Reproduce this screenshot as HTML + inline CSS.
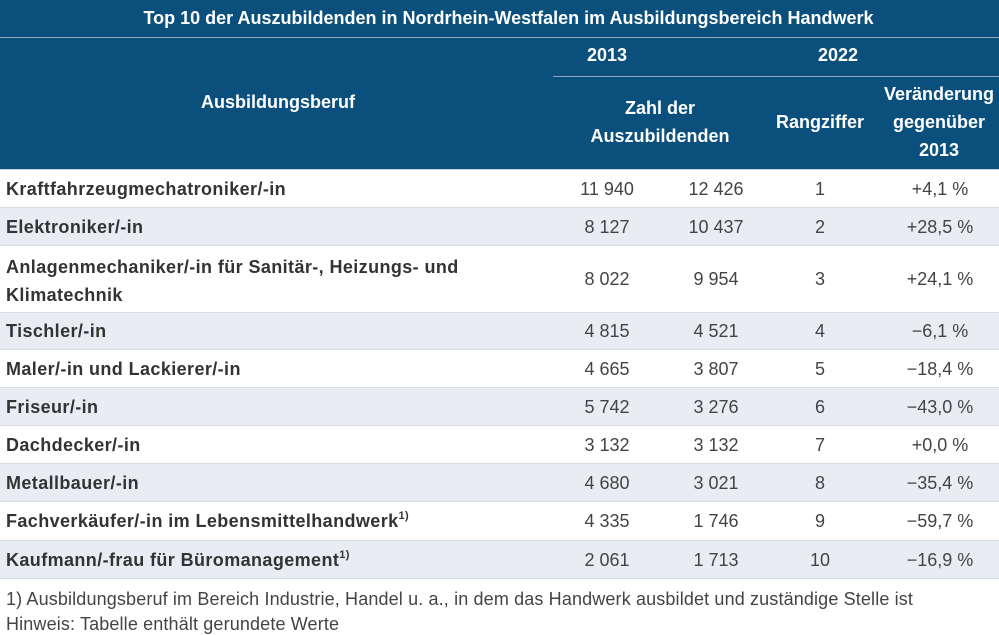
<!DOCTYPE html>
<html><head><meta charset="utf-8"><style>
*{margin:0;padding:0;box-sizing:border-box}
body{width:999px;height:634px;background:#fff;font-family:"Liberation Sans",sans-serif;color:#333;position:relative;overflow:hidden}
.a{position:absolute}
.hd{background:#0b4f7c;color:#fff;font-weight:bold}
.c{text-align:center}
.row{position:absolute;left:0;width:999px;border-bottom:1px solid #d7dce3}
.g{background:#e9edf3}
.n{position:absolute;left:6px;font-weight:bold;font-size:18px;line-height:22px;color:#333;white-space:nowrap;letter-spacing:0.4px}
.v{position:absolute;width:120px;text-align:center;font-size:18px;color:#444;margin-left:-60px;line-height:22px}
sup{font-size:11px;line-height:0;vertical-align:8px}
</style></head><body>
<div class="a hd" style="left:0;top:0;width:999px;height:37px;font-size:18px;line-height:36px;text-align:center;padding-left:18px;white-space:nowrap">Top 10 der Auszubildenden in Nordrhein-Westfalen im Ausbildungsbereich Handwerk</div>
<div class="a" style="left:0;top:37px;width:999px;height:1px;background:#8fa9c0"></div>
<div class="a hd" style="left:0;top:38px;width:999px;height:131px"></div>
<div class="a" style="left:553px;top:76px;width:446px;height:1px;background:#8fa9c0"></div>
<div class="a hd c" style="left:128px;top:91px;width:300px;font-size:18px;line-height:22px">Ausbildungsberuf</div>
<div class="a hd c" style="left:547px;top:44px;width:120px;font-size:18px;line-height:22px">2013</div>
<div class="a hd c" style="left:778px;top:44px;width:120px;font-size:18px;line-height:22px">2022</div>
<div class="a hd c" style="left:560px;top:94px;width:200px;font-size:18px;line-height:28px">Zahl der<br>Auszubildenden</div>
<div class="a hd c" style="left:760px;top:111px;width:120px;font-size:18px;line-height:22px">Rangziffer</div>
<div class="a hd c" style="left:872px;top:80px;width:134px;font-size:18px;line-height:28px;white-space:nowrap">Veränderung<br>gegenüber<br>2013</div>
<div class="a" style="left:0;top:169px;width:999px;height:1px;background:#c9d3de"></div>

<div class="row" style="top:170px;height:38px"><div class="n" style="top:8px">Kraftfahrzeugmechatroniker/-in</div><div class="v" style="left:607px;top:8px">11 940</div><div class="v" style="left:716px;top:8px">12 426</div><div class="v" style="left:820px;top:8px">1</div><div class="v" style="left:940px;top:8px">+4,1 %</div></div>
<div class="row g" style="top:208px;height:38px"><div class="n" style="top:8px">Elektroniker/-in</div><div class="v" style="left:607px;top:8px">8 127</div><div class="v" style="left:716px;top:8px">10 437</div><div class="v" style="left:820px;top:8px">2</div><div class="v" style="left:940px;top:8px">+28,5 %</div></div>
<div class="row" style="top:246px;height:67px"><div class="n" style="top:7px;line-height:28px">Anlagenmechaniker/-in für Sanitär-, Heizungs- und<br>Klimatechnik</div><div class="v" style="left:607px;top:22px">8 022</div><div class="v" style="left:716px;top:22px">9 954</div><div class="v" style="left:820px;top:22px">3</div><div class="v" style="left:940px;top:22px">+24,1 %</div></div>
<div class="row g" style="top:313px;height:37px"><div class="n" style="top:7px">Tischler/-in</div><div class="v" style="left:607px;top:7px">4 815</div><div class="v" style="left:716px;top:7px">4 521</div><div class="v" style="left:820px;top:7px">4</div><div class="v" style="left:940px;top:7px">−6,1 %</div></div>
<div class="row" style="top:350px;height:38px"><div class="n" style="top:8px">Maler/-in und Lackierer/-in</div><div class="v" style="left:607px;top:8px">4 665</div><div class="v" style="left:716px;top:8px">3 807</div><div class="v" style="left:820px;top:8px">5</div><div class="v" style="left:940px;top:8px">−18,4 %</div></div>
<div class="row g" style="top:388px;height:38px"><div class="n" style="top:8px">Friseur/-in</div><div class="v" style="left:607px;top:8px">5 742</div><div class="v" style="left:716px;top:8px">3 276</div><div class="v" style="left:820px;top:8px">6</div><div class="v" style="left:940px;top:8px">−43,0 %</div></div>
<div class="row" style="top:426px;height:38px"><div class="n" style="top:8px">Dachdecker/-in</div><div class="v" style="left:607px;top:8px">3 132</div><div class="v" style="left:716px;top:8px">3 132</div><div class="v" style="left:820px;top:8px">7</div><div class="v" style="left:940px;top:8px">+0,0 %</div></div>
<div class="row g" style="top:464px;height:38px"><div class="n" style="top:8px">Metallbauer/-in</div><div class="v" style="left:607px;top:8px">4 680</div><div class="v" style="left:716px;top:8px">3 021</div><div class="v" style="left:820px;top:8px">8</div><div class="v" style="left:940px;top:8px">−35,4 %</div></div>
<div class="row" style="top:502px;height:39px"><div class="n" style="top:8px">Fachverkäufer/-in im Lebensmittelhandwerk<sup>1)</sup></div><div class="v" style="left:607px;top:8px">4 335</div><div class="v" style="left:716px;top:8px">1 746</div><div class="v" style="left:820px;top:8px">9</div><div class="v" style="left:940px;top:8px">−59,7 %</div></div>
<div class="row g" style="top:541px;height:38px"><div class="n" style="top:8px">Kaufmann/-frau für Büromanagement<sup>1)</sup></div><div class="v" style="left:607px;top:8px">2 061</div><div class="v" style="left:716px;top:8px">1 713</div><div class="v" style="left:820px;top:8px">10</div><div class="v" style="left:940px;top:8px">−16,9 %</div></div>

<div class="a" style="left:6px;top:588px;font-size:18px;line-height:22px;color:#444;white-space:nowrap;letter-spacing:0.14px">1) Ausbildungsberuf im Bereich Industrie, Handel u. a., in dem das Handwerk ausbildet und zuständige Stelle ist</div>
<div class="a" style="left:6px;top:613px;font-size:18px;line-height:22px;color:#444;white-space:nowrap;letter-spacing:0.14px">Hinweis: Tabelle enthält gerundete Werte</div>
</body></html>
